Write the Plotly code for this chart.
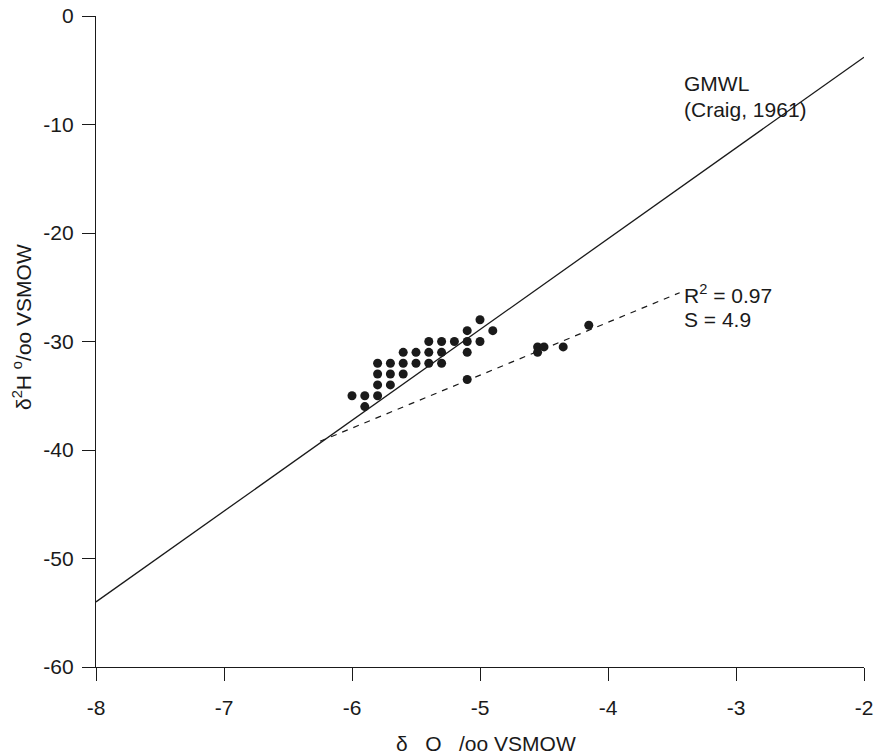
import plotly.graph_objects as go

# Data
d18o = [-6.0, -5.9, -5.8, -5.9, -5.8, -5.7, -5.8, -5.7, -5.6, -5.8, -5.7, -5.6, -5.5,
        -5.4, -5.3, -5.6, -5.5, -5.4, -5.3, -5.1, -5.4, -5.3, -5.2, -5.1, -5.0, -5.1,
        -5.0, -4.9, -5.1, -4.55, -4.5, -4.55, -4.35, -4.15]
d2h = [-35.0, -35.0, -35.0, -36.0, -34.0, -34.0, -33.0, -33.0, -33.0, -32.0, -32.0, -32.0, -32.0,
       -32.0, -32.0, -31.0, -31.0, -31.0, -31.0, -31.0, -30.0, -30.0, -30.0, -30.0, -30.0, -29.0,
       -28.0, -29.0, -33.5, -30.5, -30.5, -31.0, -30.5, -28.5]

gmwl_x = [-8.0, -2.0]
gmwl_y = [-54.0, -3.8]

fit_x = [-6.25, -3.44]
fit_y = [-39.2, -25.5]

x_ticks = [-8, -7, -6, -5, -4, -3, -2]
y_ticks = [0, -10, -20, -30, -40, -50, -60]

FONT = "Liberation Sans, Arial, sans-serif"
INK = "#1a1a1a"

W, H = 875, 755
ML, MR, MT, MB = 96, 11, 16, 88
pw = W - ML - MR
ph = H - MT - MB

fig = go.Figure()
fig.add_trace(go.Scatter(x=gmwl_x, y=gmwl_y, mode="lines",
                         line=dict(color=INK, width=1.3), showlegend=False, hoverinfo="skip"))
fig.add_trace(go.Scatter(x=fit_x, y=fit_y, mode="lines",
                         line=dict(color=INK, width=1.2, dash="6px,6px"), showlegend=False, hoverinfo="skip"))
fig.add_trace(go.Scatter(x=d18o, y=d2h, mode="markers",
                         marker=dict(color=INK, size=9, line=dict(width=0)), showlegend=False, cliponaxis=False))

tf = dict(size=21, family=FONT, color=INK)
fig.update_layout(
    width=W, height=H,
    margin=dict(l=ML, r=MR, t=MT, b=MB),
    paper_bgcolor="white", plot_bgcolor="white",
    font=tf,
    xaxis=dict(range=[-8, -2], tickvals=x_ticks, ticktext=[str(v) for v in x_ticks],
               automargin=False,
               showgrid=False, zeroline=False, showline=True, linecolor=INK, linewidth=1.3,
               ticks="outside", ticklen=13, tickwidth=1.3, tickcolor=INK, tickfont=tf,
               ticklabelstandoff=9),
    yaxis=dict(range=[-60, 0], tickvals=y_ticks, ticktext=[str(v) for v in y_ticks],
               automargin=False,
               showgrid=False, zeroline=False, showline=True, linecolor=INK, linewidth=1.3,
               ticks="outside", ticklen=13, tickwidth=1.3, tickcolor=INK, tickfont=tf,
               ticklabelstandoff=4),
    annotations=[
        dict(text="GMWL", x=-3.42, y=-6.18, xref="x", yref="y",
             xanchor="left", yanchor="middle", showarrow=False, font=tf),
        dict(text="(Craig, 1961)", x=-3.42, y=-8.66, xref="x", yref="y",
             xanchor="left", yanchor="middle", showarrow=False, font=tf),
        dict(text="R<sup>2</sup> = 0.97", x=-3.42, y=-25.6, xref="x", yref="y",
             xanchor="left", yanchor="middle", showarrow=False, font=tf),
        dict(text="S = 4.9", x=-3.42, y=-28.0, xref="x", yref="y",
             xanchor="left", yanchor="middle", showarrow=False, font=tf),
        dict(text="\u03b4\u00a0\u00a0\u00a0O\u00a0\u00a0\u00a0/oo VSMOW",
             x=(486 - ML) / pw, y=(H - MB - 743) / ph,
             xref="paper", yref="paper", xanchor="center", yanchor="middle",
             showarrow=False, font=tf),
        dict(text="\u03b4<sup>2</sup>H <sup>o</sup>/oo VSMOW",
             x=(22 - ML) / pw, y=(H - MB - 327) / ph,
             xref="paper", yref="paper", xanchor="center", yanchor="middle",
             showarrow=False, textangle=-90, font=tf),
    ],
)

fig.write_html("out.html", config={"displayModeBar": False},
               post_script="document.body.style.margin='0';document.body.style.padding='0';document.body.style.overflow='hidden';")
